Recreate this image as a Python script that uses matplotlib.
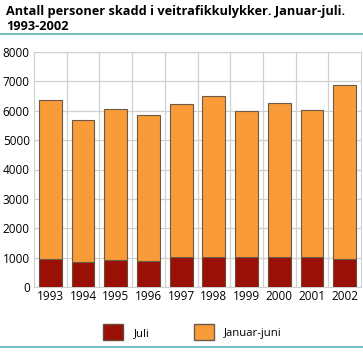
import matplotlib
matplotlib.use('Agg')
import matplotlib.pyplot as plt
from matplotlib.patches import Patch
from matplotlib.lines import Line2D

# data
years = ['1993', '1994', '1995', '1996', '1997', '1998', '1999', '2000', '2001', '2002']
juli = [945, 840, 910, 900, 1010, 1020, 1010, 1020, 1020, 970]
totals = [6360, 5700, 6065, 5860, 6235, 6490, 5975, 6260, 6010, 6870]
jan_jun = [t - j for t, j in zip(totals, juli)]

red = '#9b1006'
orange = '#f89b38'
teal = '#5bb0b0'

plt.rcParams['font.family'] = ['Open Sans', 'DejaVu Sans']
fig = plt.figure(figsize=(3.63, 3.56), dpi=100)
ax = fig.add_axes([34 / 363, 1 - 287 / 356, 327 / 363, 235 / 356])

x = range(len(years))
ax.bar(x, juli, width=0.7, color=red, edgecolor='#6b4a3a', linewidth=0.8, zorder=3)
ax.bar(x, jan_jun, bottom=juli, width=0.7, color=orange, edgecolor='#6b5a4a', linewidth=0.8, zorder=3)

ax.set_xlim(-0.5, len(years) - 0.5)
ax.set_ylim(0, 8000)
ax.set_yticks(range(0, 8001, 1000))
ax.set_xticks(list(x))
ax.set_xticklabels(years)
ax.set_xticks([i + 0.5 for i in range(len(years) - 1)], minor=True)
ax.grid(axis='y', color='#d0d0d0', linewidth=0.9, zorder=0)
ax.grid(axis='x', which='minor', color='#d0d0d0', linewidth=0.9, zorder=0)
ax.tick_params(axis='both', which='both', length=0, labelsize=8.5, colors='black')
ax.tick_params(axis='x', pad=2)
ax.tick_params(axis='y', pad=3)
for s in ['top', 'right', 'left', 'bottom']:
    ax.spines[s].set_color('#d0d0d0')

fig.text(6 / 363, 1 - 5 / 356, 'Antall personer skadd i veitrafikkulykker. Januar-juli.\n1993-2002',
         fontsize=9.2, fontweight='bold', va='top', ha='left', linespacing=1.2)

fig.add_artist(Line2D([0, 1], [1 - 34 / 356, 1 - 34 / 356], color=teal, linewidth=1.2))
fig.add_artist(Line2D([0, 1], [1 - 347 / 356, 1 - 347 / 356], color=teal, linewidth=1.2))

handles = [Patch(facecolor=red, edgecolor='#6b4a3a', label='Juli'),
           Patch(facecolor=orange, edgecolor='#6b5a4a', label='Januar-juni')]
fig.legend(handles=handles, loc='center', bbox_to_anchor=(0.53, 1 - 332 / 356), ncol=2,
           frameon=False, fontsize=8.2, handlelength=1.75, handleheight=1.75, columnspacing=3.9,
           handletextpad=0.9)

fig.savefig('out.png', dpi=100)
